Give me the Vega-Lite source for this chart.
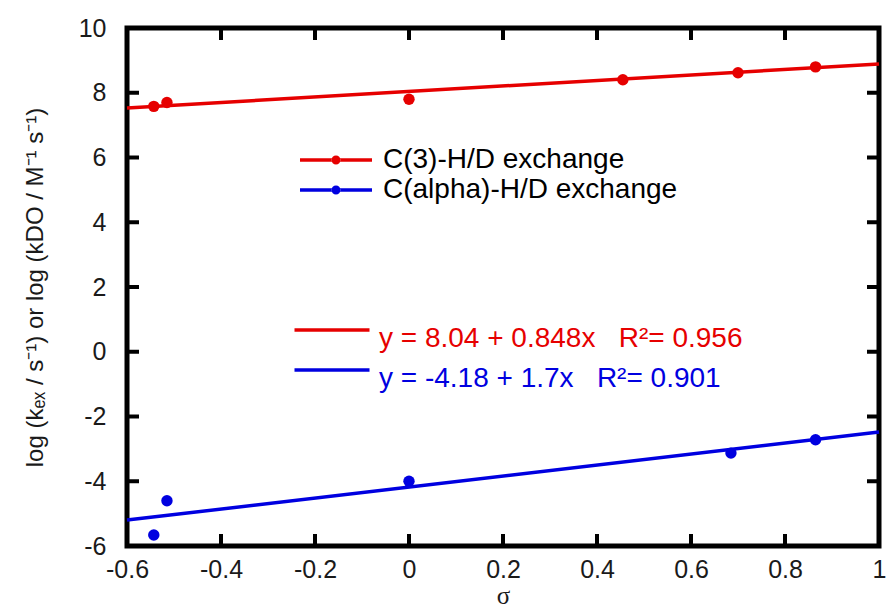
{
  "$schema": "https://vega.github.io/schema/vega-lite/v6.json",
  "width": 752,
  "height": 518,
  "autosize": {"type": "none"},
  "padding": {"left": 127, "top": 28, "right": 7, "bottom": 64},
  "background": "white",
  "config": {
    "font": "Liberation Sans",
    "view": {"stroke": "black", "strokeWidth": 5},
    "axis": {
      "grid": false,
      "domain": false,
      "ticks": false,
      "labelFlush": false,
      "labelFont": "Liberation Sans",
      "labelFontSize": 25,
      "labelColor": "#1a1a1a",
      "titleColor": "#1a1a1a",
      "titleFontWeight": "normal"
    }
  },
  "datasets": {
    "points": [
      {"series": "C(3)-H/D exchange", "sigma": -0.543, "logk": 7.58},
      {"series": "C(3)-H/D exchange", "sigma": -0.515, "logk": 7.7},
      {"series": "C(3)-H/D exchange", "sigma": 0.0, "logk": 7.8},
      {"series": "C(3)-H/D exchange", "sigma": 0.455, "logk": 8.4},
      {"series": "C(3)-H/D exchange", "sigma": 0.7, "logk": 8.62},
      {"series": "C(3)-H/D exchange", "sigma": 0.865, "logk": 8.8},
      {"series": "C(alpha)-H/D exchange", "sigma": -0.543, "logk": -5.66},
      {"series": "C(alpha)-H/D exchange", "sigma": -0.515, "logk": -4.6},
      {"series": "C(alpha)-H/D exchange", "sigma": 0.0, "logk": -4.0},
      {"series": "C(alpha)-H/D exchange", "sigma": 0.685, "logk": -3.13},
      {"series": "C(alpha)-H/D exchange", "sigma": 0.865, "logk": -2.72}
    ],
    "fits": [
      {"eq": "y = 8.04 + 0.848x\u00a0\u00a0\u00a0R²= 0.956", "sigma": -0.6, "logk": 7.531},
      {"eq": "y = 8.04 + 0.848x\u00a0\u00a0\u00a0R²= 0.956", "sigma": 1.0, "logk": 8.888},
      {"eq": "y = -4.18 + 1.7x\u00a0\u00a0\u00a0R²= 0.901", "sigma": -0.6, "logk": -5.2},
      {"eq": "y = -4.18 + 1.7x\u00a0\u00a0\u00a0R²= 0.901", "sigma": 1.0, "logk": -2.48}
    ],
    "xticks": [{"v": -0.6}, {"v": -0.4}, {"v": -0.2}, {"v": 0}, {"v": 0.2}, {"v": 0.4}, {"v": 0.6}, {"v": 0.8}, {"v": 1}],
    "yticks": [{"v": -6}, {"v": -4}, {"v": -2}, {"v": 0}, {"v": 2}, {"v": 4}, {"v": 6}, {"v": 8}, {"v": 10}]
  },
  "layer": [
    {
      "data": {"name": "fits"},
      "mark": {"type": "line", "strokeWidth": 3.5},
      "encoding": {
        "x": {
          "field": "sigma", "type": "quantitative",
          "scale": {"domain": [-0.6, 1], "nice": false, "zero": false, "padding": 0},
          "axis": {"values": [-0.6, -0.4, -0.2, 0, 0.2, 0.4, 0.6, 0.8, 1], "labelExpr": "replace(format(datum.value, '~g'), '−', '-')", "labelPadding": 11, "title": "σ", "titleFont": "Liberation Serif", "titleFontSize": 25, "titlePadding": 1}
        },
        "y": {
          "field": "logk", "type": "quantitative",
          "scale": {"domain": [-6, 10], "nice": false, "zero": false, "padding": 0},
          "axis": {"values": [-6, -4, -2, 0, 2, 4, 6, 8, 10], "labelExpr": "replace(format(datum.value, '~g'), '−', '-')", "labelPadding": 21, "title": "log (kₑₓ / s⁻¹) or log (kDO / M⁻¹ s⁻¹)", "titleFontSize": 24, "titlePadding": 31}
        },
        "stroke": {
          "field": "eq", "type": "nominal",
          "scale": {"domain": ["y = 8.04 + 0.848x\u00a0\u00a0\u00a0R²= 0.956", "y = -4.18 + 1.7x\u00a0\u00a0\u00a0R²= 0.901"], "range": ["#e60000", "#0000e0"]},
          "legend": {
            "orient": "none", "legendX": 188, "legendY": 285, "title": null, "padding": 0,
            "symbolType": "M-2.5,0H2.5", "symbolSize": 900, "symbolStrokeWidth": 3.5,
            "labelFontSize": 28, "labelOffset": 30, "labelFont": "Liberation Sans", "labelLimit": 600,
            "rowPadding": 0,
            "encode": {
              "labels": {"update": {"fill": {"scale": "stroke", "field": "value"}, "dy": {"value": 9}}}
            }
          }
        }
      }
    },
    {
      "data": {"name": "points"},
      "mark": {"type": "point", "filled": true, "size": 130, "opacity": 1},
      "encoding": {
        "x": {
          "field": "sigma", "type": "quantitative",
          "axis": {"values": [-0.6, -0.4, -0.2, 0, 0.2, 0.4, 0.6, 0.8, 1], "labelExpr": "replace(format(datum.value, '~g'), '−', '-')", "labelPadding": 11, "title": "σ", "titleFont": "Liberation Serif", "titleFontSize": 25, "titlePadding": 1}
        },
        "y": {
          "field": "logk", "type": "quantitative",
          "axis": {"values": [-6, -4, -2, 0, 2, 4, 6, 8, 10], "labelExpr": "replace(format(datum.value, '~g'), '−', '-')", "labelPadding": 21, "title": "log (kₑₓ / s⁻¹) or log (kDO / M⁻¹ s⁻¹)", "titleFontSize": 24, "titlePadding": 31}
        },
        "color": {
          "field": "series", "type": "nominal",
          "scale": {"domain": ["C(3)-H/D exchange", "C(alpha)-H/D exchange"], "range": ["#e60000", "#0000e0"]},
          "legend": {
            "orient": "none", "legendX": 193, "legendY": 116, "title": null, "padding": 0,
            "symbolType": "M-2.4,-0.11H-0.28V0.11H-2.4Z M0.28,-0.11H2.4V0.11H0.28Z M-0.3,0A0.3,0.3 0 1,0 0.3,0A0.3,0.3 0 1,0 -0.3,0Z",
            "symbolSize": 900,
            "labelFontSize": 28, "labelOffset": 31, "labelFont": "Liberation Sans", "labelLimit": 600,
            "rowPadding": 0,
            "encode": {
              "labels": {"update": {"fill": {"scale": "color", "field": "value"}}}
            }
          }
        }
      }
    },
    {
      "data": {"name": "xticks"},
      "mark": {"type": "tick", "orient": "vertical", "size": 24, "thickness": 4, "color": "black", "opacity": 1, "clip": true},
      "encoding": {
        "x": {"field": "v", "type": "quantitative", "axis": {"values": [-0.6, -0.4, -0.2, 0, 0.2, 0.4, 0.6, 0.8, 1], "labelExpr": "replace(format(datum.value, '~g'), '−', '-')", "labelPadding": 11, "title": "σ", "titleFont": "Liberation Serif", "titleFontSize": 25, "titlePadding": 1}},
        "y": {"datum": -6, "type": "quantitative", "axis": {"values": [-6, -4, -2, 0, 2, 4, 6, 8, 10], "labelExpr": "replace(format(datum.value, '~g'), '−', '-')", "labelPadding": 21, "title": "log (kₑₓ / s⁻¹) or log (kDO / M⁻¹ s⁻¹)", "titleFontSize": 24, "titlePadding": 31}}
      }
    },
    {
      "data": {"name": "xticks"},
      "mark": {"type": "tick", "orient": "vertical", "size": 24, "thickness": 4, "color": "black", "opacity": 1, "clip": true},
      "encoding": {
        "x": {"field": "v", "type": "quantitative", "axis": {"values": [-0.6, -0.4, -0.2, 0, 0.2, 0.4, 0.6, 0.8, 1], "labelExpr": "replace(format(datum.value, '~g'), '−', '-')", "labelPadding": 11, "title": "σ", "titleFont": "Liberation Serif", "titleFontSize": 25, "titlePadding": 1}},
        "y": {"datum": 10, "type": "quantitative", "axis": {"values": [-6, -4, -2, 0, 2, 4, 6, 8, 10], "labelExpr": "replace(format(datum.value, '~g'), '−', '-')", "labelPadding": 21, "title": "log (kₑₓ / s⁻¹) or log (kDO / M⁻¹ s⁻¹)", "titleFontSize": 24, "titlePadding": 31}}
      }
    },
    {
      "data": {"name": "yticks"},
      "mark": {"type": "tick", "orient": "horizontal", "size": 24, "thickness": 4, "color": "black", "opacity": 1, "clip": true},
      "encoding": {
        "y": {"field": "v", "type": "quantitative", "axis": {"values": [-6, -4, -2, 0, 2, 4, 6, 8, 10], "labelExpr": "replace(format(datum.value, '~g'), '−', '-')", "labelPadding": 21, "title": "log (kₑₓ / s⁻¹) or log (kDO / M⁻¹ s⁻¹)", "titleFontSize": 24, "titlePadding": 31}},
        "x": {"datum": -0.6, "type": "quantitative", "axis": {"values": [-0.6, -0.4, -0.2, 0, 0.2, 0.4, 0.6, 0.8, 1], "labelExpr": "replace(format(datum.value, '~g'), '−', '-')", "labelPadding": 11, "title": "σ", "titleFont": "Liberation Serif", "titleFontSize": 25, "titlePadding": 1}}
      }
    },
    {
      "data": {"name": "yticks"},
      "mark": {"type": "tick", "orient": "horizontal", "size": 24, "thickness": 4, "color": "black", "opacity": 1, "clip": true},
      "encoding": {
        "y": {"field": "v", "type": "quantitative", "axis": {"values": [-6, -4, -2, 0, 2, 4, 6, 8, 10], "labelExpr": "replace(format(datum.value, '~g'), '−', '-')", "labelPadding": 21, "title": "log (kₑₓ / s⁻¹) or log (kDO / M⁻¹ s⁻¹)", "titleFontSize": 24, "titlePadding": 31}},
        "x": {"datum": 1, "type": "quantitative", "axis": {"values": [-0.6, -0.4, -0.2, 0, 0.2, 0.4, 0.6, 0.8, 1], "labelExpr": "replace(format(datum.value, '~g'), '−', '-')", "labelPadding": 11, "title": "σ", "titleFont": "Liberation Serif", "titleFontSize": 25, "titlePadding": 1}}
      }
    }
  ]
}
